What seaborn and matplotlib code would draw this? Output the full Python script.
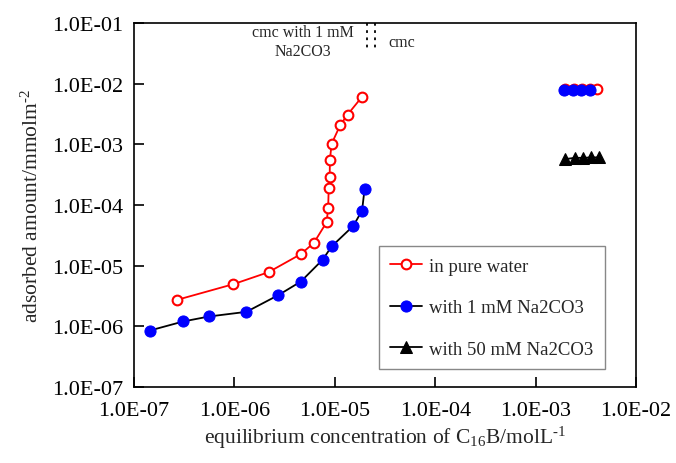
import numpy as np
import pandas as pd
import seaborn as sns
from matplotlib import pyplot as plt
from matplotlib.ticker import FixedLocator, FuncFormatter, NullLocator

# in pure water (curve)
water_x = [2.7e-7, 9.8e-7, 2.19e-6, 4.6e-6, 6.2e-6, 8.3e-6, 8.6e-6, 8.7e-6,
           8.9e-6, 8.95e-6, 9.3e-6, 1.13e-5, 1.34e-5, 1.87e-5]
water_y = [2.73e-6, 4.95e-6, 7.8e-6, 1.55e-5, 2.38e-5, 5.2e-5, 9.05e-5, 1.91e-4,
           2.94e-4, 5.53e-4, 1.02e-3, 2.06e-3, 3.09e-3, 6.1e-3]
# with 1 mM Na2CO3 (curve)
na1_x = [1.44e-7, 3.1e-7, 5.6e-7, 1.32e-6, 2.75e-6, 4.6e-6, 7.6e-6, 9.3e-6,
         1.53e-5, 1.87e-5, 1.98e-5]
na1_y = [8.5e-7, 1.2e-6, 1.45e-6, 1.73e-6, 3.27e-6, 5.47e-6, 1.26e-5, 2.07e-5,
         4.53e-5, 8.1e-5, 1.82e-4]
# high concentration groups
water_hi_x = [1.95e-3, 2.4e-3, 2.9e-3, 3.45e-3, 4.1e-3]
water_hi_y = [8.2e-3, 8.2e-3, 8.2e-3, 8.2e-3, 8.2e-3]
na1_hi_x = [1.9e-3, 2.35e-3, 2.85e-3, 3.45e-3]
na1_hi_y = [8.0e-3, 8.0e-3, 8.0e-3, 8.0e-3]
na50_x = [1.95e-3, 2.44e-3, 2.96e-3, 3.58e-3, 4.27e-3]
na50_y = [5.7e-4, 6.0e-4, 6.0e-4, 6.1e-4, 6.1e-4]

cmc_x = [2.1e-5, 2.54e-5]
cmc_top, cmc_bottom = 1e-1, 3.7e-2

ticks_x = [1e-7, 1e-6, 1e-5, 1e-4, 1e-3, 1e-2]
ticks_y = [1e-7, 1e-6, 1e-5, 1e-4, 1e-3, 1e-2, 1e-1]

sns.set_style("white")
plt.rcParams['font.family'] = ['Liberation Serif', 'DejaVu Serif']
plt.rcParams['mathtext.fontset'] = 'custom'
plt.rcParams['mathtext.rm'] = 'Liberation Serif'

fig = plt.figure(figsize=(6.76, 4.64), dpi=100)
ax = fig.add_axes([0.198, 0.164, 0.743, 0.784])

red_kw = dict(color='red', marker='o', markersize=7, markerfacecolor='white',
              markeredgecolor='red', markeredgewidth=1.5, linewidth=1.3)
blue_kw = dict(color='black', marker='o', markersize=8, markerfacecolor='blue',
               markeredgecolor='blue', linewidth=1.3)
tri_kw = dict(color='black', marker='^', markersize=8, markerfacecolor='black',
              markeredgecolor='black', linewidth=1.3)

sns.lineplot(x=water_x, y=water_y, sort=False, estimator=None, ax=ax,
             label='in pure water', **red_kw)
sns.lineplot(x=water_hi_x, y=water_hi_y, sort=False, estimator=None, ax=ax,
             label='_nolegend_', **red_kw)
sns.lineplot(x=na1_x, y=na1_y, sort=False, estimator=None, ax=ax,
             label='with 1 mM Na2CO3', **blue_kw)
sns.lineplot(x=na1_hi_x, y=na1_hi_y, sort=False, estimator=None, ax=ax,
             label='_nolegend_', **blue_kw)
sns.lineplot(x=na50_x, y=na50_y, sort=False, estimator=None, ax=ax,
             label='with 50 mM Na2CO3', **tri_kw)

for cx in cmc_x:
    ax.plot([cx, cx], [cmc_top, cmc_bottom], color='black', linestyle=(0, (1.5, 2.5)),
            linewidth=1.3)

ax.text(4.8e-6, 5.0e-2, 'cmc with 1 mM\nNa2CO3', ha='center', va='center',
        fontsize=11.5, linespacing=1.3)
ax.text(3.4e-5, 4.9e-2, 'cmc', ha='left', va='center', fontsize=11.5)

ax.set_xscale('log')
ax.set_yscale('log')
ax.set_xlim(1e-7, 1e-2)
ax.set_ylim(1e-7, 1e-1)
ax.xaxis.set_major_locator(FixedLocator(ticks_x))
ax.yaxis.set_major_locator(FixedLocator(ticks_y))
ax.xaxis.set_minor_locator(NullLocator())
ax.yaxis.set_minor_locator(NullLocator())
fmt = FuncFormatter(lambda v, p: f"{v:.1E}")
ax.xaxis.set_major_formatter(fmt)
ax.yaxis.set_major_formatter(fmt)
ax.tick_params(axis='both', direction='in', length=7, width=1.2, labelsize=16,
               colors='black', bottom=True, left=True, top=False, right=False)
ax.tick_params(axis='x', pad=10)
ax.tick_params(axis='y', pad=8)
for sp in ax.spines.values():
    sp.set_color('black')
    sp.set_linewidth(1.2)

ax.set_xlabel('equilibrium concentration of C$\\mathregular{_{16}}$B/molL$\\mathregular{^{\\text{-}1}}$',
              fontsize=15.5, labelpad=3)
ax.set_ylabel('adsorbed amount/mmolm$\\mathregular{^{\\text{-}2}}$', fontsize=15.5, labelpad=6)

leg = ax.legend(loc='lower right', bbox_to_anchor=(0.938, 0.049), fontsize=13.5,
                frameon=True, fancybox=False, edgecolor='#888888', framealpha=1,
                labelspacing=1.3, handlelength=1.7, handletextpad=0.4,
                borderpad=0.6, borderaxespad=0)
leg.get_frame().set_linewidth(1.0)

ax.grid(False)
fig.savefig('out.png', dpi=100)
